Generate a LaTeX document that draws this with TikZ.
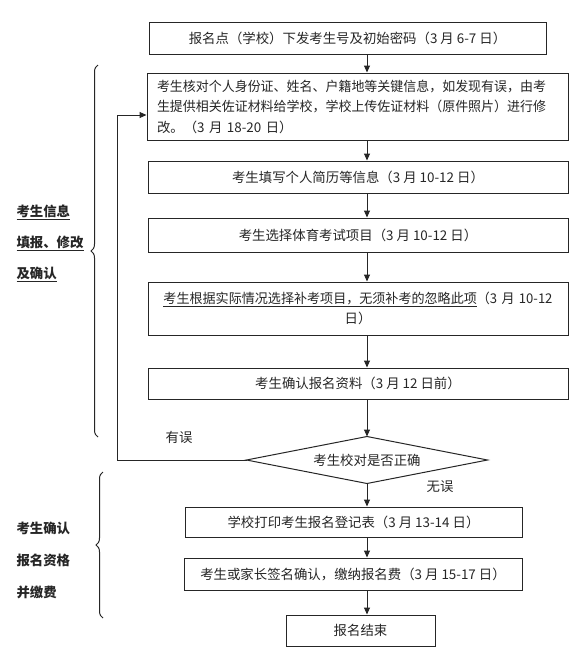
\documentclass[tikz,border=0pt]{standalone}
\usepackage{fontspec}
\usepackage{graphicx}
\setmainfont{Noto Sans CJK SC}
\usetikzlibrary{arrows.meta,shapes.geometric,decorations.pathreplacing}
\newcommand{\fitline}[1]{\resizebox{389pt}{\height}{#1}}
\begin{document}
\begin{tikzpicture}[x=1pt,y=-1pt,
  box/.style={draw=black!85,line width=1pt,rectangle,inner sep=0pt,align=center,text=black!85,font=\fontsize{13.4}{20.5}\selectfont},
  arr/.style={draw=black!85,line width=1pt,-{Triangle[length=7pt,width=6pt]}},
  lab/.style={anchor=west,text=black!85,font=\fontsize{13.4}{16}\selectfont\bfseries},
  side/.style={text=black!85,font=\fontsize{13.4}{16}\selectfont},
  brc/.style={draw=black!85,line width=1pt,decorate,decoration={brace,amplitude=7pt,aspect=0.5}}]
\useasboundingbox[fill=white] (0,0) rectangle (581,670);
\node[box,minimum width=397pt,minimum height=32pt] (b1) at (347.5,38.5) {报名点（学校）下发考生号及初始密码（3 月 6-7 日）};
\node[box,minimum width=421pt,minimum height=67pt,text width=401pt,align=left] (b2) at (357.5,106.5) {\fitline{考生核对个人身份证、姓名、户籍地等关键信息，如发现有误，由考}\\\fitline{生提供相关佐证材料给学校，学校上传佐证材料（原件照片）进行修}\\改。（3 月 18-20 日）};
\node[box,minimum width=420pt,minimum height=32pt] (b3) at (358,177) {考生填写个人简历等信息（3 月 10-12 日）};
\node[box,minimum width=420pt,minimum height=34pt] (b4) at (358,235) {考生选择体育考试项目（3 月 10-12 日）};
\node[box,minimum width=420pt,minimum height=53pt,text width=400pt] (b5) at (358,308.5) {\fitline{\underline{考生根据实际情况选择补考项目，无须补考的忽略此项}（3 月 10-12}\\日）};
\node[box,minimum width=420pt,minimum height=31pt] (b6) at (358,383.5) {考生确认报名资料（3 月 12 日前）};
\node[box,draw=none,minimum width=240pt,minimum height=46pt] (d) at (367,460) {考生校对是否正确};
\draw[black!85,line width=1pt] (d.west) -- (d.north) -- (d.east) -- (d.south) -- cycle;
\node[box,minimum width=337pt,minimum height=30pt] (b7) at (353.5,522) {学校打印考生报名登记表（3 月 13-14 日）};
\node[box,minimum width=338pt,minimum height=32pt] (b8) at (353,574) {考生或家长签名确认，缴纳报名费（3 月 15-17 日）};
\node[box,minimum width=149pt,minimum height=31pt] (b9) at (360.5,630.5) {报名结束};
\coordinate (cx) at (367,0);
\draw[arr] (b1.south -| cx) -- (b2.north -| cx);
\draw[arr] (b2.south -| cx) -- (b3.north -| cx);
\draw[arr] (b3.south -| cx) -- (b4.north -| cx);
\draw[arr] (b4.south -| cx) -- (b5.north -| cx);
\draw[arr] (b5.south -| cx) -- (b6.north -| cx);
\draw[arr] (b6.south -| cx) -- (d.north);
\draw[arr] (d.south) -- (b7.north -| cx);
\draw[arr] (b7.south -| cx) -- (b8.north -| cx);
\draw[arr] (b8.south -| cx) -- (b9.north -| cx);
\coordinate (fb) at (117,115);
\draw[arr] (d.west) -- (d.west -| fb) -- (fb) -- (fb -| b2.west);
\node[side] (yw) at (179,437) {有误};
\node[side] (ww) at (440,487) {无误};
\coordinate (br1a) at (98,437);
\coordinate (br1b) at (98,65);
\draw[brc] (br1a) -- (br1b);
\coordinate (br2a) at (103,618);
\coordinate (br2b) at (103,472);
\draw[brc] (br2a) -- (br2b);
\node[lab] (l1) at (13,212) {\underline{考生信息}};
\node[lab] (l2) at (13,243) {\underline{填报、修改}};
\node[lab] (l3) at (13,274) {\underline{及确认}};
\node[lab] (m1) at (13,528) {考生确认};
\node[lab] (m2) at (13,560) {报名资格};
\node[lab] (m3) at (13,592) {并缴费};
\end{tikzpicture}
\end{document}
